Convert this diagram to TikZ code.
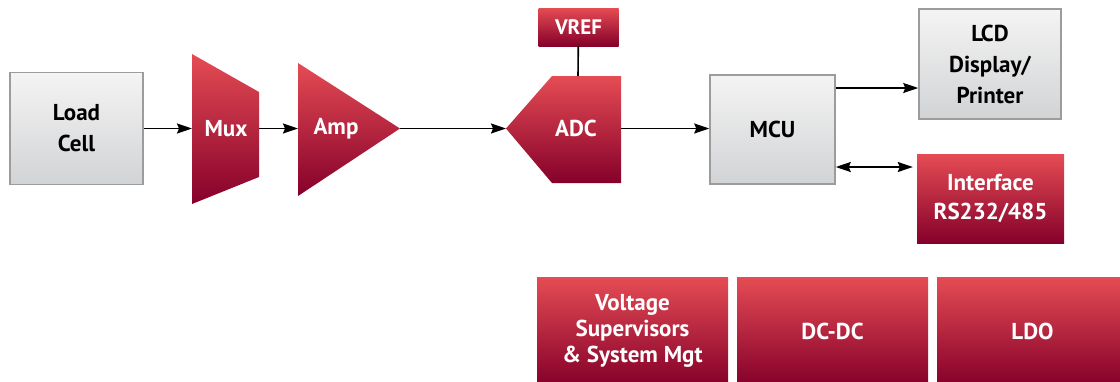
\documentclass[tikz,border=0pt]{standalone}
\usepackage{fontspec}
\setmainfont{PT Sans}
\usetikzlibrary{arrows.meta}

\definecolor{redtop}{HTML}{E54C54}
\definecolor{redbot}{HTML}{85002A}
\definecolor{graytop}{HTML}{F4F4F4}
\definecolor{graybot}{HTML}{D2D3D5}
\definecolor{grayline}{HTML}{9C9C9C}

\begin{document}
\begin{tikzpicture}[x=1pt,y=-1pt,>={Stealth[length=15pt,width=10pt,inset=2pt]},
  font=\fontsize{23}{31}\selectfont\bfseries,
  redfill/.style={top color=redtop,bottom color=redbot,draw=none},
  graybox/.style={top color=graytop,bottom color=graybot,draw=grayline,line width=1.5pt,
    align=center,inner sep=0pt},
  redbox/.style={redfill,text=white,align=center,inner sep=0pt},
  wire/.style={line width=1.6pt}]
  \useasboundingbox (0,0) rectangle (1120,381);

  % signal chain
  \node[graybox,minimum width=133pt,minimum height=112pt] (load) at (76.5,128.5) {Load\\Cell};

  \shade[redfill] (192,54) -- (259,92) -- (259,177) -- (192,204) -- cycle;
  \coordinate (muxin) at (192,128.5);
  \coordinate (muxout) at (259,128.5);
  \node[text=white] (mux) at (226,129) {Mux};

  \shade[redfill] (298,63) -- (400,128.5) -- (298,196) -- cycle;
  \coordinate (ampin) at (298,128.5);
  \coordinate (ampout) at (400,128.5);
  \node[text=white] (amp) at (336,129) {Amp};

  \shade[redfill] (506,128.5) -- (552,76) -- (621,76) -- (621,183) -- (552,183) -- cycle;
  \coordinate (adcin) at (506,128.5);
  \coordinate (adcout) at (621,128.5);
  \coordinate (adctop) at (578,76);
  \node[text=white] (adc) at (576,128) {ADC};

  \node[redbox,font=\fontsize{21}{24}\selectfont\bfseries,minimum width=80pt,minimum height=38pt]
    (vref) at (578.5,27) {VREF};

  \node[graybox,minimum width=125pt,minimum height=109pt] (mcu) at (772.5,129.5) {MCU};
  \node[graybox,minimum width=142pt,minimum height=110pt] (lcd) at (990,64) {LCD\\Display/\\Printer};
  \node[redbox,font=\fontsize{23}{29}\selectfont\bfseries,minimum width=147pt,minimum height=89pt]
    (iface) at (990.5,198.5) {Interface\\RS232/485};

  \draw[wire,->] (load) -- (muxin);
  \draw[wire,->] (muxout) -- (ampin);
  \draw[wire,->] (ampout) -- (adcin);
  \draw[wire] (vref) -- (adctop);
  \draw[wire,->] (adcout) -- (mcu.west |- adcout);
  \draw[wire,->] (mcu.east |- 0,88) -- (lcd.west |- 0,88);
  \draw[wire,<->] (mcu.east |- 0,167) -- ([xshift=-4pt]iface.west |- 0,167);

  % power
  \begin{scope}[every node/.style={redbox,font=\fontsize{23}{26}\selectfont\bfseries,
      minimum width=191pt,minimum height=108pt}]
    \node (supv) at (632.5,331) {Voltage\\Supervisors\\\& System Mgt};
    \node (dcdc) at (832.5,331) {DC-DC};
    \node (ldo) at (1032.5,331) {LDO};
  \end{scope}
\end{tikzpicture}
\end{document}
